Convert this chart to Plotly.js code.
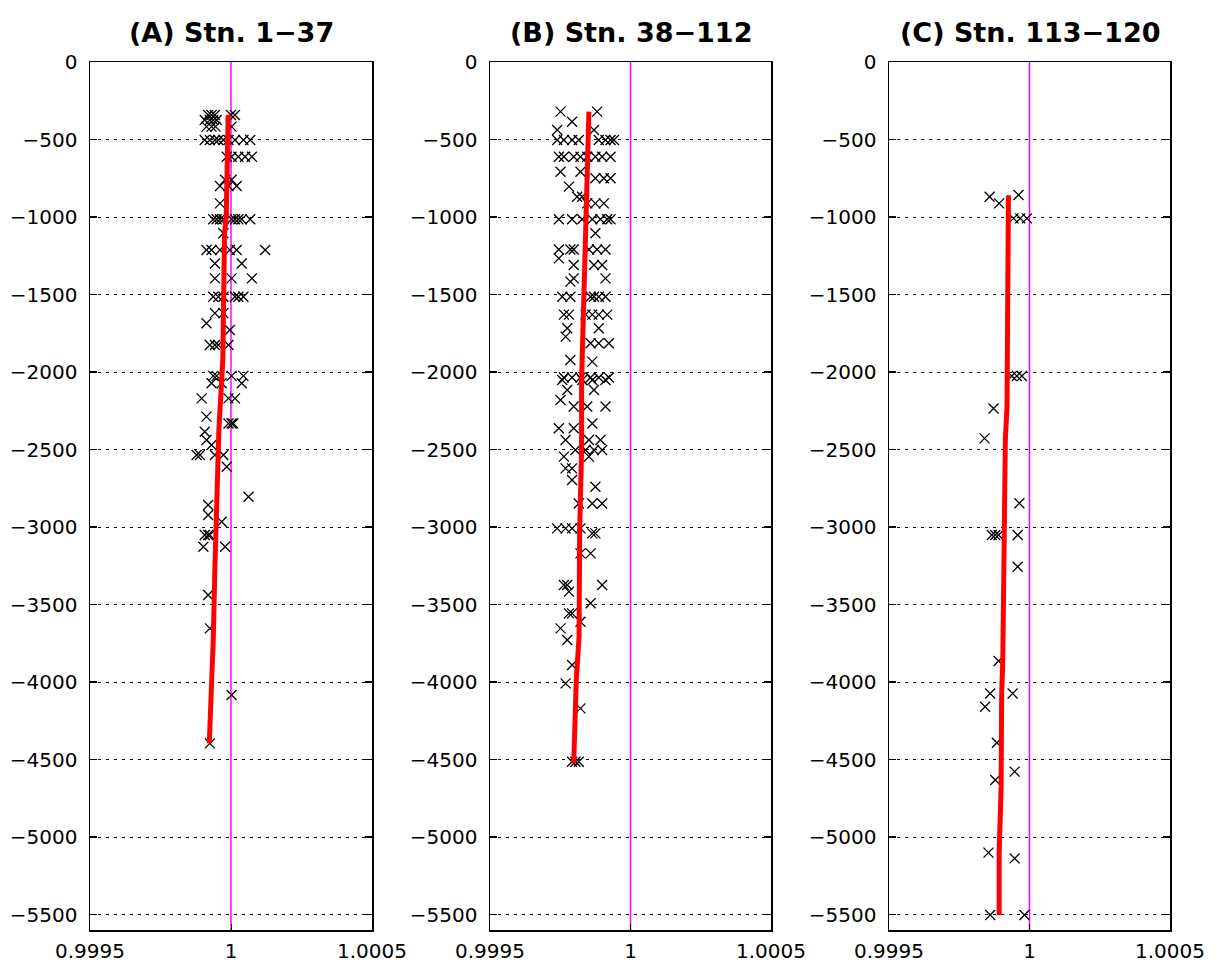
<!DOCTYPE html>
<html>
<head>
<meta charset="utf-8">
<script src="https://cdn.plot.ly/plotly-3.0.1.min.js"></script>
<style>html,body{margin:0;padding:0;background:#fff;}#chart{width:1217px;height:964px;}</style>
</head>
<body>
<div id="chart"></div>
<script>
// ---------- data ----------
const panelTitles = ["(A) Stn. 1\u221237", "(B) Stn. 38\u2212112", "(C) Stn. 113\u2212120"];
const xTickVals = [0.9995, 1, 1.0005];
const xTickText = ["0.9995", "1", "1.0005"];
const yTickVals = [0, -500, -1000, -1500, -2000, -2500, -3000, -3500, -4000, -4500, -5000, -5500];
const refX = [1, 1];
const refY = [0, -5600];

// Panel A: observed points (ratio, depth)
const aRatio = [
 0.999919,0.999931,0.999943,1.000000,1.000014,
 0.999907,0.999925,0.999937,0.999949,
 0.999913,0.999931,0.999945,1.000002,
 0.999907,0.999925,0.999943,0.999955,0.999973,0.999991,1.000014,1.000044,1.000068,
 0.999985,1.000002,1.000026,1.000050,1.000074,
 0.999979,1.000002,
 0.999961,0.999991,1.000020,
 0.999961,
 0.999937,0.999949,0.999961,0.999973,1.000002,1.000014,1.000026,1.000038,1.000068,
 0.999973,
 0.999913,0.999931,0.999961,0.999996,1.000020,1.000121,
 0.999943,1.000038,
 0.999943,1.000002,1.000074,
 0.999937,0.999955,0.999973,1.000014,1.000026,1.000044,
 0.999943,0.999973,
 0.999913,
 0.999996,
 0.999925,0.999943,0.999955,0.999991,
 0.999937,0.999949,1.000002,1.000044,
 0.999931,0.999967,1.000038,
 0.999896,0.999991,1.000014,
 0.999913,
 0.999991,1.000002,1.000008,
 0.999907,
 0.999913,
 0.999931,
 0.999878,0.999890,0.999943,0.999973,
 0.999985,
 1.000062,
 0.999919,
 0.999919,
 0.999967,
 0.999907,0.999919,0.999925,
 0.999902,0.999979,
 0.999919,
 0.999925,
 1.000002,
 0.999925
];
const aDepth = [
 -342,-342,-342,-342,-342,
 -374,-374,-374,-374,
 -417,-417,-417,-417,
 -503,-503,-503,-503,-503,-503,-503,-503,-503,
 -611,-611,-611,-611,-611,
 -760,-760,
 -800,-800,-800,
 -912,
 -1015,-1015,-1015,-1015,-1015,-1015,-1015,-1015,-1015,
 -1105,
 -1213,-1213,-1213,-1213,-1213,-1213,
 -1300,-1300,
 -1396,-1396,-1396,
 -1514,-1514,-1514,-1514,-1514,-1514,
 -1620,-1620,
 -1686,
 -1729,
 -1826,-1826,-1826,-1826,
 -2025,-2025,-2025,-2025,
 -2073,-2073,-2073,
 -2170,-2170,-2170,
 -2288,
 -2332,-2332,-2332,
 -2385,
 -2439,
 -2471,
 -2535,-2535,-2535,-2535,
 -2611,
 -2805,
 -2858,
 -2923,
 -2966,
 -3052,-3052,-3052,
 -3127,-3127,
 -3439,
 -3654,
 -4084,
 -4396
];
const aFitRatio = [0.999990, 0.999983, 0.999977, 0.999971, 0.999957, 0.999949, 0.999943, 0.999937, 0.999931, 0.999923];
const aFitDepth = [-340, -1000, -1105, -1923, -2374, -2804, -3256, -3729, -4073, -4396];

// Panel B
const bRatio = [
 0.999751,0.999881,
 0.999792,
 0.999739,0.999870,
 0.999739,0.999763,0.999792,0.999816,0.999887,0.999911,0.999929,0.999941,
 0.999745,0.999763,0.999798,0.999822,0.999846,0.999875,0.999899,0.999929,
 0.999751,0.999822,
 0.999875,0.999905,0.999929,
 0.999781,
 0.999810,0.999828,
 0.999846,0.999875,0.999905,
 0.999745,0.999792,0.999828,0.999864,0.999893,0.999917,0.999929,
 0.999875,
 0.999745,0.999786,0.999798,0.999852,0.999881,0.999911,
 0.999745,
 0.999798,0.999870,0.999899,
 0.999798,0.999911,
 0.999786,
 0.999757,0.999786,0.999858,0.999870,0.999887,0.999911,
 0.999763,0.999781,0.999840,0.999864,0.999887,0.999917,
 0.999775,0.999887,
 0.999769,
 0.999858,0.999887,0.999923,
 0.999786,
 0.999864,
 0.999763,0.999792,0.999822,0.999858,0.999887,0.999923,
 0.999757,0.999828,0.999864,0.999911,
 0.999775,0.999870,
 0.999751,
 0.999798,0.999846,0.999911,
 0.999864,
 0.999745,0.999798,
 0.999769,0.999852,0.999893,
 0.999804,0.999840,0.999870,0.999899,
 0.999763,0.999852,
 0.999769,0.999792,
 0.999792,
 0.999875,
 0.999816,0.999864,0.999899,
 0.999739,0.999769,0.999792,0.999822,
 0.999864,0.999875,
 0.999822,0.999858,
 0.999763,0.999775,0.999899,
 0.999781,
 0.999858,
 0.999781,0.999792,
 0.999822,
 0.999751,
 0.999775,
 0.999792,
 0.999769,
 0.999822,
 0.999792,0.999804,0.999816
];
const bDepth = [
 -320,-320,
 -385,
 -439,-439,
 -503,-503,-503,-503,-503,-503,-503,-503,
 -611,-611,-611,-611,-611,-611,-611,-611,
 -708,-708,
 -750,-750,-750,
 -804,
 -869,-869,
 -912,-912,-912,
 -1015,-1015,-1015,-1015,-1015,-1015,-1015,
 -1105,
 -1210,-1210,-1210,-1210,-1210,-1210,
 -1267,
 -1310,-1310,-1310,
 -1396,-1396,
 -1417,
 -1514,-1514,-1514,-1514,-1514,-1514,
 -1630,-1630,-1630,-1630,-1630,-1630,
 -1718,-1718,
 -1772,
 -1815,-1815,-1815,
 -1923,
 -1933,
 -2035,-2035,-2035,-2035,-2035,-2035,
 -2052,-2052,-2052,-2052,
 -2116,-2116,
 -2181,
 -2223,-2223,-2223,
 -2332,
 -2363,-2363,
 -2439,-2439,-2439,
 -2503,-2503,-2503,-2503,
 -2546,-2546,
 -2622,-2622,
 -2697,
 -2740,
 -2848,-2848,-2848,
 -3009,-3009,-3009,-3009,
 -3041,-3041,
 -3170,-3170,
 -3374,-3374,-3374,
 -3417,
 -3492,
 -3557,-3557,
 -3611,
 -3654,
 -3729,
 -3890,
 -4009,
 -4170,
 -4514,-4514,-4514
];
const bFitRatio = [0.999852, 0.999842, 0.999832, 0.999826, 0.999826, 0.999819, 0.999817, 0.999807, 0.999798];
const bFitDepth = [-320, -1000, -1493, -2052, -2503, -3019, -3708, -3987, -4525];

// Panel C
const cRatio = [
 0.999961, 0.999858, 0.999892,
 0.999943, 0.999967, 0.999991,
 0.999937, 0.999955, 0.999973,
 0.999872, 0.999840, 0.999964,
 0.999866, 0.999878, 0.999890, 0.999958,
 0.999958, 0.999890,
 0.999860, 0.999940,
 0.999842, 0.999884, 0.999947, 0.999878,
 0.999854, 0.999947,
 0.999860, 0.999982
];
const cDepth = [
 -858, -869, -912,
 -1009, -1009, -1009,
 -2026, -2026, -2026,
 -2235, -2428, -2847,
 -3052, -3052, -3052, -3052,
 -3256, -3865,
 -4074, -4074,
 -4160, -4392, -4578, -4632,
 -5101, -5138,
 -5503, -5503
];
const cFitRatio = [0.999925, 0.999923, 0.999920, 0.999914, 0.999911, 0.999907, 0.999905, 0.999901, 0.999899, 0.999892, 0.999892];
const cFitDepth = [-859, -1643, -2224, -2439, -3041, -3256, -3858, -4074, -4675, -5105, -5503];

// ---------- build ----------
const W = 1217, H = 964;
const panelPx = [[90, 372], [490, 771], [889, 1170]];
const plotTop = 62, plotBottom = 930;

const pts = [[aRatio, aDepth], [bRatio, bDepth], [cRatio, cDepth]];
const fits = [[aFitRatio, aFitDepth], [bFitRatio, bFitDepth], [cFitRatio, cFitDepth]];

const traces = [];
const layout = {
  width: W, height: H,
  margin: {l: 0, r: 0, t: 0, b: 0},
  paper_bgcolor: "#fff", plot_bgcolor: "#fff",
  showlegend: false,
  font: {family: "DejaVu Sans, sans-serif", size: 20, color: "#000"},
  annotations: []
};
const tickFont = {family: "DejaVu Sans, sans-serif", size: 20, color: "#000"};

for (let i = 0; i < 3; i++) {
  const sfx = i === 0 ? "" : String(i + 1);
  const xa = "x" + sfx, ya = "y" + sfx;
  traces.push({x: refX, y: refY, xaxis: xa, yaxis: ya, mode: "lines",
    line: {color: "#ff00ff", width: 1.5}, hoverinfo: "skip"});
  traces.push({x: pts[i][0], y: pts[i][1], xaxis: xa, yaxis: ya, mode: "markers",
    marker: {symbol: "x-thin", size: 10, line: {color: "#000", width: 1.3}, color: "#000"}});
  traces.push({x: fits[i][0], y: fits[i][1], xaxis: xa, yaxis: ya, mode: "lines",
    line: {color: "#ff0000", width: 5}});

  const dom = [panelPx[i][0] / W, panelPx[i][1] / W];
  layout["xaxis" + sfx] = {
    domain: dom, anchor: ya, range: [0.9995, 1.0005],
    tickmode: "array", tickvals: xTickVals, ticktext: xTickText,
    showgrid: false, zeroline: false,
    showline: true, linecolor: "#000", linewidth: 1.5, mirror: true,
    ticks: "inside", ticklen: 6, tickcolor: "#000",
    tickfont: tickFont, ticklabelstandoff: 2, fixedrange: true
  };
  layout["yaxis" + sfx] = {
    domain: [1 - plotBottom / H, 1 - plotTop / H], anchor: xa, range: [-5600, 0],
    tickmode: "array", tickvals: yTickVals,
    showgrid: true, gridcolor: "#000", gridwidth: 1, griddash: "3px,5px",
    zeroline: false,
    showline: true, linecolor: "#000", linewidth: 1.5, mirror: "ticks",
    ticks: "inside", ticklen: 7, tickcolor: "#000", tickwidth: 1.5,
    tickfont: tickFont, ticklabelstandoff: 7, fixedrange: true
  };
  layout.annotations.push({
    text: "<b>" + panelTitles[i] + "</b>", xref: "paper", yref: "paper",
    x: (dom[0] + dom[1]) / 2, y: 1 - 33 / H, xanchor: "center", yanchor: "middle",
    showarrow: false, font: {family: "DejaVu Sans, sans-serif", size: 27, color: "#000"}
  });
}

Plotly.newPlot("chart", traces, layout, {displayModeBar: false, staticPlot: true});
</script>
</body>
</html>
